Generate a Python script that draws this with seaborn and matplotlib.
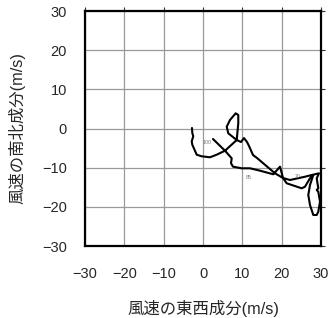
import matplotlib
matplotlib.use("Agg")
import matplotlib.pyplot as plt
import seaborn as sns
import pandas as pd

# Hodograph (u, v) in m/s, in drawing order
u_wind = [2.54, 5.59, 7.30, 7.12, 7.63, 9.84, 11.95, 14.49, 17.87, 19.58,
          20.34, 21.28, 25.09, 25.93, 27.20, 28.04, 27.20, 26.77, 27.20, 28.04,
          28.91, 29.31, 29.75, 29.31, 28.91, 29.31, 28.91, 29.49, 27.64, 25.93,
          22.12, 20.34, 18.31, 13.73, 12.71, 11.70, 11.19, 10.42, 9.66, 8.57,
          6.43, 6.03, 6.86, 8.31, 8.97, 8.97, 8.57, 5.59, 3.48, 1.78,
          -0.33, -1.60, -2.72, -2.87, -2.47, -2.72, -2.80]
v_wind = [-2.68, -5.67, -7.61, -8.88, -9.75, -10.16, -10.16, -10.77, -11.69, -9.75,
          -12.64, -13.99, -15.27, -14.86, -12.71, -11.87, -14.43, -16.98, -19.53, -22.08,
          -22.08, -21.24, -18.69, -16.14, -15.70, -15.27, -12.71, -11.44, -11.87, -12.31,
          -13.15, -12.64, -11.44, -7.53, -6.77, -4.47, -3.45, -2.43, -3.45, -2.94,
          -1.23, 0.46, 2.17, 3.88, 3.45, 1.33, -2.94, -5.67, -6.69, -7.35,
          -7.10, -6.69, -4.14, -3.27, -1.99, -1.15, 0.13]

label_text = ["100", "85", "70"]
label_u = [1.0, 11.7, 24.2]
label_v = [-3.7, -12.4, -12.2]

ticks = [-30, -20, -10, 0, 10, 20, 30]
tick_labels = ["\u221230", "\u221220", "\u221210", "0", "10", "20", "30"]
xlabel = "風速の東西成分(m/s)"
ylabel = "風速の南北成分(m/s)"

sns.set_style("white")
plt.rcParams['font.family'] = ['Liberation Sans', 'Noto Sans CJK JP', 'DejaVu Sans']
plt.rcParams['axes.unicode_minus'] = True

fig = plt.figure(figsize=(3.31, 3.18), dpi=100)
ax = fig.add_axes([85/331, 1-246/318, 236/331, 235/318])

df = pd.DataFrame({"u": u_wind, "v": v_wind, "order": range(len(u_wind))})
sns.lineplot(data=df, x="u", y="v", sort=False, estimator=None, color="black",
             linewidth=1.5, ax=ax, zorder=3)

for t, x, y in zip(label_text, label_u, label_v):
    ax.text(x, y, t, fontsize=3.8, color="#777777", ha="center", va="center", zorder=4)

ax.set_xlim(-30, 30)
ax.set_ylim(-30, 30)
ax.set_xticks(ticks)
ax.set_yticks(ticks)
ax.set_xticklabels(tick_labels, fontsize=10.5)
ax.set_yticklabels(tick_labels, fontsize=10.5)
ax.grid(True, color="#999999", linewidth=0.9)
ax.set_axisbelow(True)
for s in ax.spines.values():
    s.set_linewidth(1.6)
    s.set_color("black")
ax.tick_params(axis="both", which="major", direction="out", length=6, width=0.8,
               color="#333333", pad=7)
ax.tick_params(axis="x", top=True, labeltop=False, pad=9)
ax.tick_params(axis="y", right=True, labelright=False)
for tk in ax.xaxis.get_major_ticks():
    tk.tick2line.set_markersize(3)
for tk in ax.yaxis.get_major_ticks():
    tk.tick2line.set_markersize(3)
ax.set_xlabel(xlabel, fontsize=11.8, labelpad=14)
ax.set_ylabel(ylabel, fontsize=11.8, labelpad=12)

fig.savefig("out.png", dpi=100)
